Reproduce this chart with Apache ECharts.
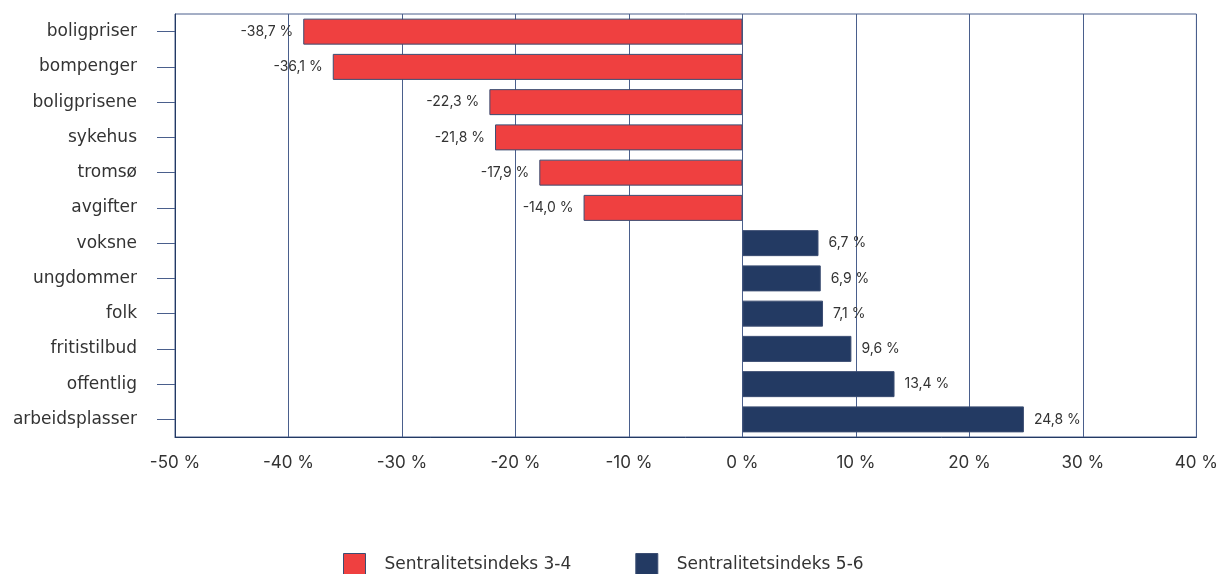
<!DOCTYPE html>
<html>
<head>
<meta charset="utf-8">
<script src="https://cdn.jsdelivr.net/npm/echarts@6/dist/echarts.min.js"></script>
<style>
  html, body { margin: 0; padding: 0; background: #fff; }
  #chart { width: 1221px; height: 574px; }
</style>
</head>
<body>
<div id="chart"></div>
<script>
// Ord og andel, sortert slik de vises ovenfra og ned
const categories = ['boligpriser', 'bompenger', 'boligprisene', 'sykehus', 'tromsø', 'avgifter',
  'voksne', 'ungdommer', 'folk', 'fritistilbud', 'offentlig', 'arbeidsplasser'];
const seriesNames = ['Sentralitetsindeks 3-4', 'Sentralitetsindeks 5-6'];
const valuesLow = [-38.7, -36.1, -22.3, -21.8, -17.9, -14.0, null, null, null, null, null, null];
const valuesHigh = [null, null, null, null, null, null, 6.7, 6.9, 7.1, 9.6, 13.4, 24.8];
const axisMin = -50, axisMax = 40, axisStep = 10;

const FONT = 'Inter, "Noto Sans", sans-serif';
const WIDE = '"DejaVu Sans", "Noto Sans", sans-serif';
const NAVY = '#233a63';
const LINE = '#4a5f8c';

const pct = v => v.toFixed(1).replace('.', ',') + ' %';

function barSeries(name, data, color, labelPos) {
  return {
    name: name,
    type: 'bar',
    stack: 'all',
    barWidth: 26,
    data: data.map(v => v === null ? '-' : v),
    itemStyle: { color: color, borderColor: '#3b4d72', borderWidth: 1 },
    label: {
      show: true,
      position: labelPos,
      distance: 10,
      color: '#333',
      fontFamily: FONT,
      fontSize: 14,
      formatter: p => pct(p.value)
    }
  };
}

const chart = echarts.init(document.getElementById('chart'), null, { renderer: 'canvas' });
chart.setOption({
  animation: false,
  grid: { left: 175, right: 24, top: 14, bottom: 137, show: true, borderColor: LINE, borderWidth: 1 },
  legend: {
    top: 548,
    left: 338,
    itemWidth: 22,
    itemHeight: 22,
    itemGap: 64,
    icon: 'rect',
    textStyle: { fontFamily: WIDE, fontSize: 17, color: '#333', padding: [0, 0, 0, 14] },
    data: seriesNames.map(n => ({
      name: n,
      itemStyle: { borderColor: '#3b4d72', borderWidth: 1 }
    }))
  },
  xAxis: {
    type: 'value',
    min: axisMin,
    max: axisMax,
    interval: axisStep,
    axisLine: { show: true, lineStyle: { color: NAVY, width: 1 } },
    axisTick: { show: false },
    splitLine: { show: true, lineStyle: { color: LINE, width: 1 } },
    axisLabel: { margin: 17, fontFamily: FONT, fontSize: 17, color: '#333', formatter: v => v + ' %' }
  },
  yAxis: {
    type: 'category',
    inverse: true,
    data: categories,
    axisLine: { show: true, onZero: false, lineStyle: { color: NAVY, width: 1 } },
    axisTick: { show: true, alignWithLabel: true, length: 18, lineStyle: { color: LINE } },
    axisLabel: { margin: 38, fontFamily: WIDE, fontSize: 17, color: '#333' }
  },
  series: [
    barSeries(seriesNames[0], valuesLow, '#ef4040', 'left'),
    barSeries(seriesNames[1], valuesHigh, NAVY, 'right')
  ]
});
</script>
</body>
</html>
